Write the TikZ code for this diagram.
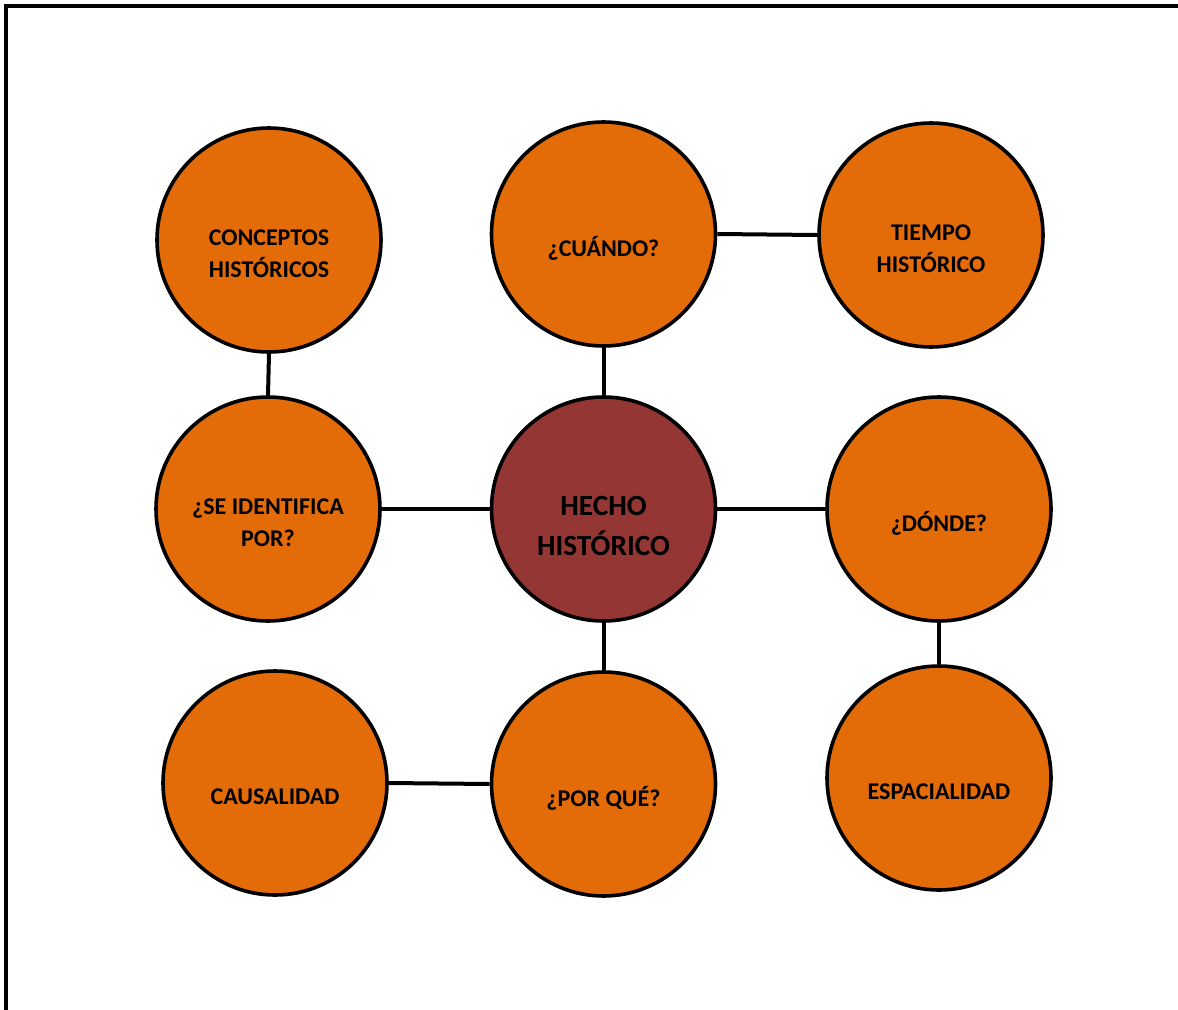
\documentclass[tikz,border=0pt]{standalone}
\usepackage{fontspec}
\setmainfont{Carlito}
\definecolor{orng}{HTML}{E36C09}
\definecolor{maroon}{HTML}{943634}
\begin{document}
\begin{tikzpicture}[x=0.75pt,y=-0.75pt,
  circ/.style={circle,draw=black,line width=2.7pt,fill=orng,minimum size=224*0.75pt,inner sep=0pt},
  txt/.style={font=\bfseries\fontsize{18}{24}\selectfont,align=center,yshift=-10.5pt},
  bigtxt/.style={font=\bfseries\fontsize{22}{30}\selectfont,align=center,yshift=-13pt},
  conn/.style={line width=3pt}]
\useasboundingbox (0,0) rectangle (1178,1010);
\draw[line width=3pt] (5.5,1015) -- (5.5,5.5) -- (1183,5.5);

\node[circ] (conc) at (269,240) {};
\node[circ] (cuan) at (603.5,234) {};
\node[circ] (tiem) at (931,235) {};
\node[circ] (iden) at (268,509) {};
\node[circ,fill=maroon] (hech) at (603.5,509) {};
\node[circ] (dond) at (939,509) {};
\node[circ] (caus) at (275,783) {};
\node[circ] (porq) at (603.5,784) {};
\node[circ] (espa) at (939,778) {};

\node[txt] (tconc) at (conc.center) {CONCEPTOS\\HISTÓRICOS};
\node[txt] (tcuan) at (cuan.center) {¿CUÁNDO?};
\node[txt] (ttiem) at (tiem.center) {TIEMPO\\HISTÓRICO};
\node[txt] (tiden) at (iden.center) {¿SE IDENTIFICA\\POR?};
\node[bigtxt] (thech) at (hech.center) {HECHO\\HISTÓRICO};
\node[txt] (tdond) at (dond.center) {¿DÓNDE?};
\node[txt] (tcaus) at (caus.center) {CAUSALIDAD};
\node[txt] (tporq) at (porq.center) {¿POR QUÉ?};
\node[txt] (tespa) at (espa.center) {ESPACIALIDAD};

\draw[conn] (conc.south) -- (iden.north);
\draw[conn] (cuan.south) -- (hech.north);
\draw[conn] (cuan.east) -- (tiem.west);
\draw[conn] (iden.east) -- (hech.west);
\draw[conn] (hech.east) -- (dond.west);
\draw[conn] (hech.south) -- (porq.north);
\draw[conn] (dond.south) -- (espa.north);
\draw[conn] (caus.east) -- (porq.west);
\end{tikzpicture}
\end{document}
